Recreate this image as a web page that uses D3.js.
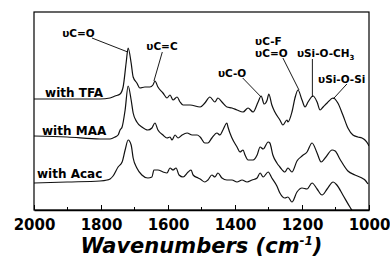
<!DOCTYPE html>
<html>
<head>
<meta charset="utf-8">
<script src="https://cdn.jsdelivr.net/npm/d3@7"></script>
<style>
  body { margin: 0; background: #fff; }
  svg { display: block; }
  .lbl { font-family: "DejaVu Sans", sans-serif; font-weight: bold; fill: #000; }
</style>
</head>
<body>
<div id="chart"></div>
<script>
// FTIR spectra, values (arbitrary absorbance units, offset per sample)
const tfaWave = [2000, 1901, 1803, 1773, 1758, 1743, 1734, 1725, 1719, 1710, 1704, 1693, 1684, 1669, 1654, 1645, 1639, 1630, 1615, 1603, 1594, 1585, 1573, 1564, 1555, 1534, 1504, 1490, 1475, 1460, 1451, 1439, 1424, 1409, 1394, 1376, 1361, 1346, 1331, 1322, 1313, 1304, 1299, 1290, 1281, 1266, 1257, 1245, 1242, 1230, 1221, 1212, 1200, 1191, 1182, 1167, 1155, 1146, 1137, 1125, 1107, 1093, 1078, 1063, 1048, 1033, 1021, 1012, 1003, 1000];
const tfaAbs = [111, 111, 111, 112, 114, 116, 123, 147, 162, 147, 133, 127, 122, 123, 123, 125, 129, 123, 117, 112, 115, 110, 113, 108, 105, 105, 103, 107, 113, 108, 112, 108, 103, 102, 100, 98, 102, 98, 108, 114, 106, 110, 116, 105, 98, 90, 85, 90, 88, 98, 112, 120, 110, 103, 108, 114, 108, 100, 103, 107, 112, 107, 95, 82, 75, 73, 72, 70, 66, 64];

const maaWave = [2000, 1901, 1803, 1773, 1758, 1749, 1743, 1737, 1728, 1719, 1710, 1704, 1693, 1678, 1660, 1648, 1639, 1630, 1615, 1603, 1594, 1588, 1579, 1570, 1558, 1543, 1528, 1513, 1504, 1490, 1481, 1469, 1454, 1445, 1436, 1424, 1421, 1409, 1394, 1385, 1376, 1370, 1361, 1346, 1334, 1325, 1316, 1301, 1296, 1287, 1275, 1266, 1251, 1242, 1230, 1215, 1200, 1185, 1170, 1155, 1143, 1131, 1110, 1101, 1087, 1063, 1042, 1021, 1012, 1003];
const maaAbs = [74, 73, 71, 71, 73, 75, 80, 83, 100, 124, 110, 97, 88, 83, 80, 82, 87, 80, 75, 72, 73, 70, 75, 72, 75, 77, 75, 75, 73, 67, 67, 72, 77, 75, 80, 87, 83, 72, 63, 58, 60, 55, 50, 50, 55, 63, 61, 68, 67, 55, 47, 43, 38, 42, 38, 49, 54, 58, 67, 57, 48, 52, 60, 59, 51, 39, 35, 32, 30, 26];

const acacWave = [2000, 1901, 1803, 1782, 1773, 1764, 1749, 1737, 1728, 1719, 1710, 1704, 1693, 1678, 1660, 1648, 1642, 1630, 1615, 1603, 1594, 1585, 1576, 1567, 1555, 1540, 1531, 1525, 1510, 1504, 1490, 1481, 1469, 1460, 1451, 1439, 1424, 1409, 1394, 1379, 1364, 1349, 1334, 1325, 1316, 1301, 1290, 1275, 1266, 1251, 1242, 1230, 1215, 1200, 1185, 1170, 1155, 1140, 1125, 1107, 1096, 1078, 1057, 1036, 1003];
const acacAbs = [27, 28, 29, 30, 31, 34, 43, 48, 60, 70, 65, 52, 42, 35, 32, 33, 40, 40, 38, 37, 42, 40, 42, 35, 33, 38, 40, 35, 32, 31, 28, 30, 35, 33, 37, 32, 30, 30, 28, 30, 28, 30, 32, 37, 33, 38, 32, 24, 17, 12, 13, 8, 18, 22, 21, 27, 21, 15, 21, 28, 25, 15, 3, -8, -18];

const sampleNames = ["with TFA", "with MAA", "with Acac"];
// label anchor for each sample, in data units [wavenumber, absorbance]
const sampleLabelAt = [[1967, 113], [1976, 75], [1991, 32]];

// band assignments: text anchor and leader line (from -> to), data units
const bandText = [["υC=O"], ["υC=C"], ["υC-O"], ["υC-F", "υC=O"], ["υSi-O-CH", "3"], ["υSi-O-Si"]];
const bandTextAt = [[1916, 173], [1618, 160], [1451, 133], [1340, 165], [1215, 153], [1152, 127]];
const bandLineFrom = [[1827, 172], [1617, 158], [1377, 132], [1257, 152], [1169, 151], [1066, 126]];
const bandLineTo = [[1720, 158], [1642, 129], [1322, 113], [1209, 120], [1169, 113], [1107, 111]];

const xTicks = [2000, 1800, 1600, 1400, 1200, 1000];
const xMinorTicks = [1900, 1700, 1500, 1300, 1100];

function drawSpectra(id) {
  const w = 390;
  const h = 257;
  const margin = { left: 34, right: 21, top: 12, bottom: 47 };

  const svg = d3
    .select(`#${id}`)
    .append("svg")
    .attr("width", w)
    .attr("height", h);

  const xScale = d3.scaleLinear().domain([2000, 1000]).range([margin.left, w - margin.right]);
  const yScale = d3.scaleLinear().domain([0, 198]).range([h - margin.bottom, margin.top]);

  svg
    .append("clipPath")
    .attr("id", "plotClip")
    .append("rect")
    .attr("x", margin.left)
    .attr("y", margin.top)
    .attr("width", w - margin.left - margin.right)
    .attr("height", h - margin.top - margin.bottom);

  const series = [
    tfaWave.map((d, i) => [d, tfaAbs[i]]),
    maaWave.map((d, i) => [d, maaAbs[i]]),
    acacWave.map((d, i) => [d, acacAbs[i]]),
  ];

  const line = d3
    .line()
    .x((d) => xScale(d[0]))
    .y((d) => yScale(d[1]))
    .curve(d3.curveMonotoneX);

  svg
    .append("g")
    .attr("clip-path", "url(#plotClip)")
    .selectAll("path")
    .data(series)
    .enter()
    .append("path")
    .attr("d", line)
    .attr("fill", "none")
    .attr("stroke", "#111")
    .attr("stroke-width", 1.2);

  // frame
  svg
    .append("rect")
    .attr("x", margin.left)
    .attr("y", margin.top)
    .attr("width", w - margin.left - margin.right)
    .attr("height", h - margin.top - margin.bottom)
    .attr("fill", "none")
    .attr("stroke", "#000")
    .attr("stroke-width", 1.2);

  // bottom axis, ticks point inward
  const xAxis = svg
    .append("g")
    .attr("transform", `translate(0, ${h - margin.bottom})`)
    .call(d3.axisBottom(xScale).tickValues(xTicks).tickSizeInner(-5).tickSizeOuter(0).tickPadding(9).tickFormat(d3.format("d")));
  xAxis.select(".domain").attr("stroke-width", 1.4);
  xAxis
    .selectAll("text")
    .attr("class", "lbl")
    .style("font-size", "15px");

  svg
    .append("g")
    .selectAll("line")
    .data(xMinorTicks)
    .enter()
    .append("line")
    .attr("x1", (d) => xScale(d))
    .attr("x2", (d) => xScale(d))
    .attr("y1", h - margin.bottom)
    .attr("y2", h - margin.bottom - 3)
    .attr("stroke", "#000");

  // axis title
  const title = svg
    .append("text")
    .attr("class", "lbl")
    .attr("x", (margin.left + w - margin.right) / 2)
    .attr("y", 253)
    .attr("text-anchor", "middle")
    .style("font-size", "21px")
    .style("font-style", "italic");
  title.append("tspan").text("Wavenumbers (cm");
  title.append("tspan").attr("dy", -8).style("font-size", "12px").text("-1");
  title.append("tspan").attr("dy", 8).text(")");

  // sample labels
  svg
    .append("g")
    .selectAll("text")
    .data(sampleNames)
    .enter()
    .append("text")
    .attr("class", "lbl")
    .attr("x", (d, i) => xScale(sampleLabelAt[i][0]))
    .attr("y", (d, i) => yScale(sampleLabelAt[i][1]))
    .style("font-size", "12px")
    .text((d) => d);

  // band labels with leader lines
  const bands = svg.append("g");
  bands
    .selectAll("line")
    .data(bandLineFrom)
    .enter()
    .append("line")
    .attr("x1", (d) => xScale(d[0]))
    .attr("y1", (d) => yScale(d[1]))
    .attr("x2", (d, i) => xScale(bandLineTo[i][0]))
    .attr("y2", (d, i) => yScale(bandLineTo[i][1]))
    .attr("stroke", "#000")
    .attr("stroke-width", 0.9);

  bandText.forEach((t, i) => {
    const tx = xScale(bandTextAt[i][0]);
    const ty = yScale(bandTextAt[i][1]);
    const anchor = i === 1 ? "middle" : "start";
    if (i === 3) {
      // two stacked labels
      t.forEach((s, k) => {
        bands.append("text").attr("class", "lbl").attr("x", tx).attr("y", ty + k * 12)
          .style("font-size", "10.5px").text(s);
      });
    } else if (i === 4) {
      const el = bands.append("text").attr("class", "lbl").attr("x", tx).attr("y", ty).style("font-size", "10.5px");
      el.append("tspan").text(t[0]);
      el.append("tspan").attr("dy", 3).style("font-size", "7px").text(t[1]);
    } else {
      bands.append("text").attr("class", "lbl").attr("x", tx).attr("y", ty)
        .attr("text-anchor", anchor).style("font-size", "10.5px").text(t[0]);
    }
  });
}

drawSpectra("chart");
</script>
</body>
</html>
